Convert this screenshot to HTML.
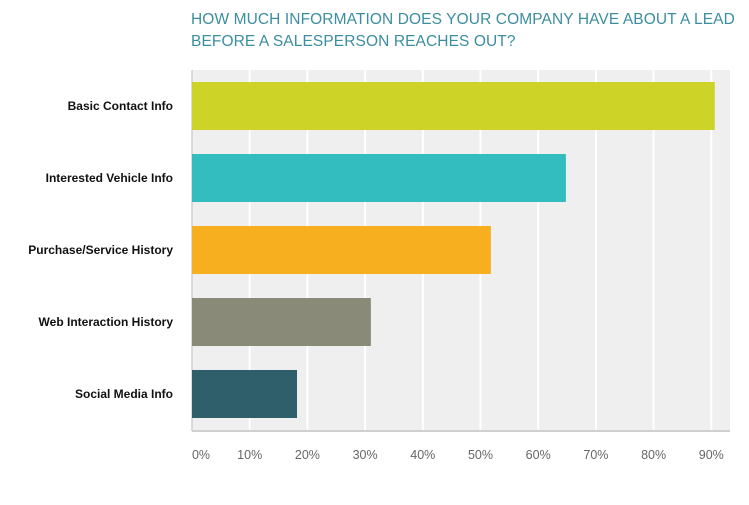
<!DOCTYPE html>
<html><head><meta charset="utf-8"><style>
body{margin:0;background:#fff;width:749px;height:505px;overflow:hidden;font-family:"Liberation Sans",sans-serif}
.title{position:absolute;left:191px;top:9px;color:#3b8ea0;font-size:15.5px;line-height:22px;letter-spacing:0.1px}
</style></head><body>
<div class="title">HOW MUCH INFORMATION DOES YOUR COMPANY HAVE ABOUT A LEAD<br>BEFORE A SALESPERSON REACHES OUT?</div>
<svg id="chart" width="749" height="505" style="position:absolute;left:0;top:0"></svg>
<script>
const categories=["Basic Contact Info","Interested Vehicle Info","Purchase/Service History","Web Interaction History","Social Media Info"];
const values=[90.6,64.8,51.8,31.0,18.2];
const colors=["#cdd427","#33bdbf","#f7af1f","#8a8a78","#2e5f6b"];
const ticks=[0,10,20,30,40,50,60,70,80,90];
const NS="http://www.w3.org/2000/svg";
const svg=document.getElementById('chart');
const x0=192,pxPer=5.77,plotTop=70,plotBottom=431,plotRight=730;
function xs(v){return x0+v*pxPer;}
function ys(i){return 82+i*72;}
function mk(t,a){const e=document.createElementNS(NS,t);for(const k in a)e.setAttribute(k,a[k]);svg.appendChild(e);return e;}
let bg=mk('rect',{x:x0,y:plotTop,width:plotRight-x0,height:plotBottom-plotTop,fill:'#efefef'});


ticks.forEach(t=>{
 if(t>0){let g=mk('line',{x1:xs(t),x2:xs(t),y1:plotTop,y2:plotBottom,stroke:'#fff','stroke-width':2});
 
 }
 let l=mk('text',{x:t===0?201:xs(t),y:459,'text-anchor':'middle','font-size':12.5,fill:'#666'});
 l.textContent=t+'%';
 
 
});
let ax=mk('line',{x1:x0,x2:plotRight,y1:plotBottom,y2:plotBottom,stroke:'#d0d0d0','stroke-width':2});


let ay=mk('line',{x1:x0,x2:x0,y1:plotTop,y2:plotBottom,stroke:'#d0d0d0','stroke-width':1.5});


categories.forEach((c,i)=>{
 let r=mk('rect',{x:x0,y:ys(i),width:xs(values[i])-x0,height:48,fill:colors[i]});
 
 
 let t=mk('text',{x:173,y:ys(i)+28,'text-anchor':'end','font-size':12,'font-weight':'bold',fill:'#111'});
 t.textContent=c;
 
 
});
</script>
</body></html>
